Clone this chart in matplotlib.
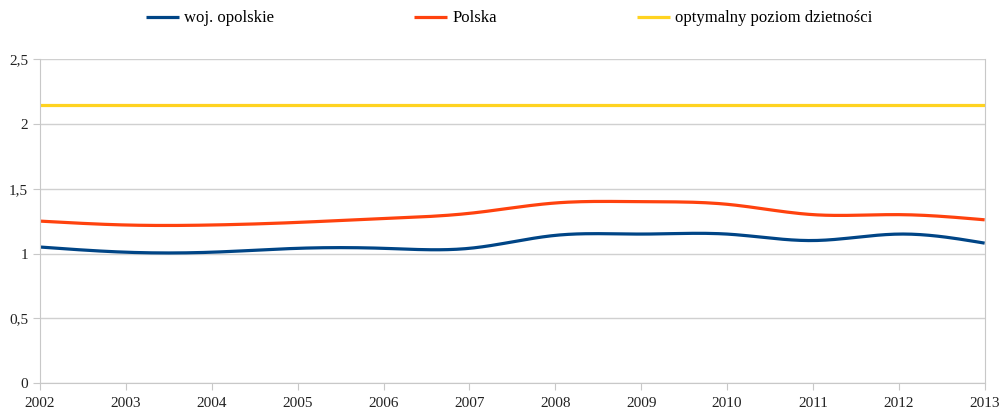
import numpy as np
import matplotlib.pyplot as plt

years = [2002, 2003, 2004, 2005, 2006, 2007, 2008, 2009, 2010, 2011, 2012, 2013]
opolskie = [1.05, 1.01, 1.01, 1.04, 1.04, 1.04, 1.14, 1.15, 1.15, 1.10, 1.15, 1.08]
polska = [1.25, 1.22, 1.22, 1.24, 1.27, 1.31, 1.39, 1.40, 1.38, 1.30, 1.30, 1.26]
optimum = [2.15] * len(years)
labels = ["woj. opolskie", "Polska", "optymalny poziom dzietności"]
colors = ["#004586", "#ff420e", "#ffd320"]


def smooth(x, y, n=20):
    # natural cubic spline, only for drawing the curve between the data points
    x = np.asarray(x, float)
    y = np.asarray(y, float)
    k = len(x)
    h = np.diff(x)
    A = np.zeros((k, k))
    b = np.zeros(k)
    A[0, 0] = A[-1, -1] = 1
    for i in range(1, k - 1):
        A[i, i - 1] = h[i - 1]
        A[i, i] = 2 * (h[i - 1] + h[i])
        A[i, i + 1] = h[i]
        b[i] = 6 * ((y[i + 1] - y[i]) / h[i] - (y[i] - y[i - 1]) / h[i - 1])
    m = np.linalg.solve(A, b)
    xs, ys = [], []
    for i in range(k - 1):
        t = np.linspace(x[i], x[i + 1], n, endpoint=False)
        a = (x[i + 1] - t) / h[i]
        c = (t - x[i]) / h[i]
        s = (a * y[i] + c * y[i + 1]
             + ((a ** 3 - a) * m[i] + (c ** 3 - c) * m[i + 1]) * h[i] ** 2 / 6)
        xs.extend(t)
        ys.extend(s)
    xs.append(x[-1])
    ys.append(y[-1])
    return xs, ys


plt.rcParams['font.family'] = ['Liberation Serif', 'DejaVu Serif']

fig = plt.figure(figsize=(10.06, 4.11), dpi=100)
ax = fig.add_axes([0.0398, 0.068, 0.939, 0.788])

for data, lab, col in zip([opolskie, polska, optimum], labels, colors):
    sx, sy = smooth(years, data)
    ax.plot(sx, sy, color=col, lw=2.3, label=lab, solid_capstyle='butt')

ax.set_xlim(2002, 2013)
ax.set_ylim(0, 2.5)
ax.set_xticks(years)
ax.set_yticks([0, 0.5, 1, 1.5, 2, 2.5])
ax.set_yticklabels(["0", "0,5", "1", "1,5", "2", "2,5"])
ax.grid(axis='y', color='#d0d0d0', lw=1)
ax.set_axisbelow(True)
for s in ['left', 'right', 'bottom']:
    ax.spines[s].set_color('#c8c8c8')
ax.spines['top'].set_visible(False)
ax.tick_params(colors='#c8c8c8', labelcolor='#222222', labelsize=11, length=5)
ax.tick_params(axis='x', pad=5)

fig.legend(loc='center', bbox_to_anchor=(0.506, 0.955), ncol=3, frameon=False,
           fontsize=12, handlelength=2.0, handletextpad=0.3, columnspacing=8.4)

fig.savefig("out.png", dpi=100)
